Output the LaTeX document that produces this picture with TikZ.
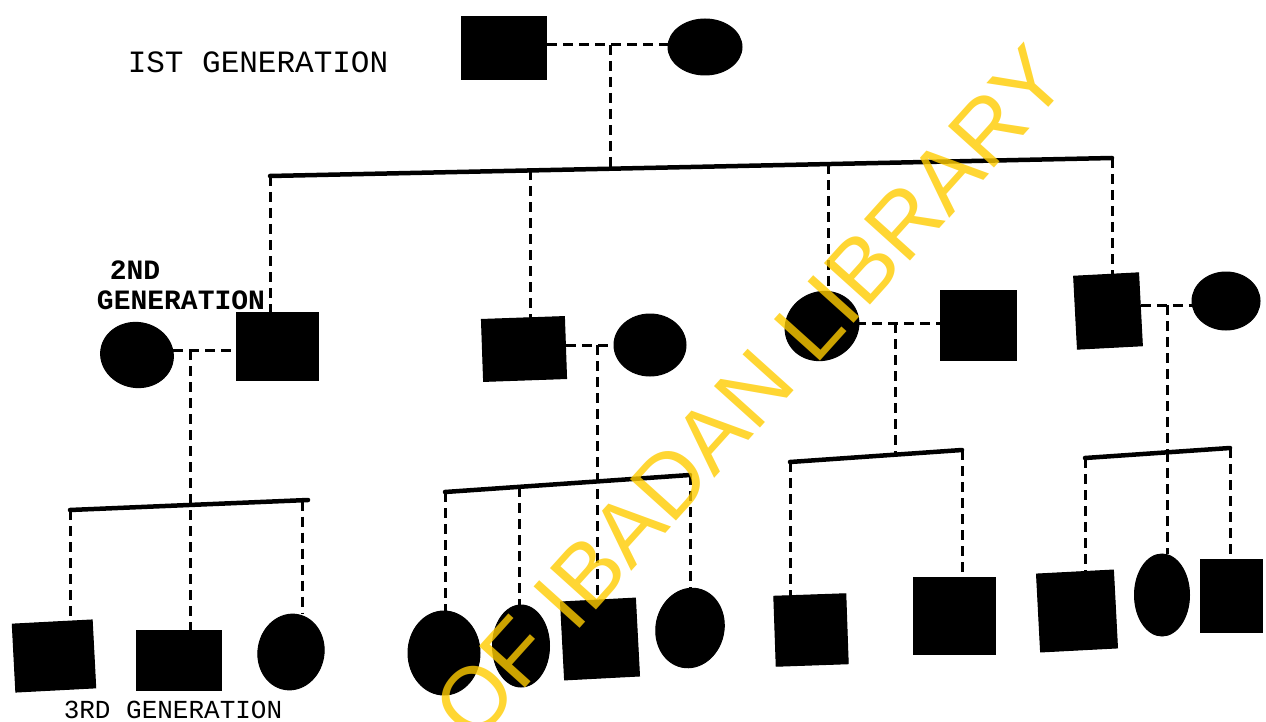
\documentclass[tikz,border=0pt]{standalone}
\usepackage{fontspec}
\newfontfamily\typew{Liberation Mono}
\newfontfamily\wmarkfont{Liberation Sans}
\usetikzlibrary{shapes.geometric}
\definecolor{wmyellow}{RGB}{255,204,0}
\tikzset{
  male/.style={rectangle, fill=black, draw=black, line width=1pt, inner sep=0pt},
  female/.style={ellipse, fill=black, draw=black, line width=1pt, inner sep=0pt},
  dashline/.style={line width=3pt, dash pattern=on 10pt off 6pt},
  barline/.style={line width=4.5pt, line cap=round},
  genlabel/.style={font=\typew\fontsize{31}{33}\selectfont, inner sep=0pt},
}
\begin{document}
\begin{tikzpicture}[x=1pt, y=-1pt]
\useasboundingbox (0,0) rectangle (1266,722);

% ---------- first generation ----------
\node[male, minimum width=85pt, minimum height=63pt] (g1m) at (504,48) {};
\node[female, minimum width=74pt, minimum height=56pt] (g1f) at (705,47) {};
\coordinate (m1) at (610,45);
\draw[dashline] (m1 -| g1m.east) -- (m1 -| g1f.west);
\coordinate (t0) at (270,176);
\coordinate (t1) at (530,170.4);
\coordinate (t2) at (828,164.1);
\coordinate (t3) at (1112,158);
\coordinate (tm) at (610,168.7);
\draw[dashline] (m1) -- (tm);
\draw[barline] (t0) -- (t3);

% ---------- second generation ----------
\node[female, minimum width=73pt, minimum height=65pt, rotate=-10] (aw) at (137,355) {};
\node[male, minimum width=82pt, minimum height=68pt] (ah) at (277,346) {};
\node[male, minimum width=83pt, minimum height=62pt, rotate=2] (bh) at (524,349) {};
\node[female, minimum width=72pt, minimum height=62pt] (bw) at (650,345) {};
\node[female, minimum width=75pt, minimum height=68pt, rotate=25] (cw) at (822,326) {};
\node[male, minimum width=76pt, minimum height=70pt] (ch) at (978,325) {};
\node[male, minimum width=65pt, minimum height=73pt, rotate=3] (dh) at (1108,311) {};
\node[female, minimum width=68pt, minimum height=58pt] (dw) at (1226,301) {};

\draw[dashline] (t0) -- (t0 |- ah.north);
\draw[dashline] (t1) -- (t1 |- bh.north);
\draw[dashline] (t2) -- (t2 |- cw.north);
\draw[dashline] (t3) -- (t3 |- dh.north);

% marriage lines, level with each couple's drop point
\coordinate (ma) at (190,350);
\coordinate (mb) at (597,345);
\coordinate (mc) at (895,323);
\coordinate (md) at (1167,305);
\draw[dashline] (ma -| aw.east) -- (ma -| ah.west);
\draw[dashline] (mb -| bh.east) -- (mb -| bw.west);
\draw[dashline] (mc -| cw.east) -- (mc -| ch.west);
\draw[dashline] (md -| dh.east) -- (md -| dw.west);

% ---------- third generation ----------
% family A
\node[male, minimum width=80pt, minimum height=68pt, rotate=3] (s11) at (54,656) {};
\node[male, minimum width=85pt, minimum height=60pt] (s12) at (179,660) {};
\node[female, minimum width=66pt, minimum height=76pt, rotate=-10] (c13) at (291,652) {};
\coordinate (a0) at (70,510);
\coordinate (a2) at (302,500.5);
\draw[barline] (a0) -- (308,500);
\draw[dashline] (ma) -- (ma |- s12.north);
\draw[dashline] (a0) -- (a0 |- s11.north);
\draw[dashline] (a2) -- (a2 |- c13.north);

% family B
\node[female, minimum width=72pt, minimum height=84pt] (c21) at (444,653) {};
\node[female, minimum width=57pt, minimum height=82pt] (c22) at (521,646) {};
\node[male, minimum width=75pt, minimum height=78pt, rotate=3] (s23) at (600,639) {};
\node[female, minimum width=68pt, minimum height=80pt, rotate=-12] (c24) at (690,628) {};
\coordinate (b0) at (445,492);
\coordinate (b1) at (519,487);
\coordinate (b3) at (690,475);
\draw[barline] (b0) -- (b3);
\draw[dashline] (mb) -- (mb |- s23.north);
\draw[dashline] (b0) -- (b0 |- c21.north);
\draw[dashline] (b1) -- (b1 |- c22.north);
\draw[dashline] (b3) -- (b3 |- c24.north);

% family C
\node[male, minimum width=72pt, minimum height=70pt, rotate=2] (s31) at (811,630) {};
\node[male, minimum width=82pt, minimum height=77pt] (s32) at (954,616) {};
\coordinate (c0) at (790,462);
\coordinate (c1) at (962,450);
\coordinate (cm) at (895,455);
\draw[dashline] (mc) -- (cm);
\draw[barline] (c0) -- (c1);
\draw[dashline] (c0) -- (c0 |- s31.north);
\draw[dashline] (c1) -- (c1 |- s32.north);

% family D
\node[male, minimum width=77pt, minimum height=78pt, rotate=3] (s41) at (1077,611) {};
\node[female, minimum width=55pt, minimum height=82pt] (c42) at (1162,595) {};
\node[male, minimum width=62pt, minimum height=73pt] (s43) at (1231,596) {};
\coordinate (d0) at (1085,458);
\coordinate (d2) at (1230,448);
\coordinate (dm) at (1167,452);
\draw[dashline] (md) -- (dm);
\draw[barline] (d0) -- (d2);
\draw[dashline] (d0) -- (d0 |- s41.north);
\draw[dashline] (dm) -- (dm |- c42.north);
\draw[dashline] (d2) -- (d2 |- s43.north);

% ---------- generation labels ----------
\node[genlabel] (lab1) at (258,62) {IST GENERATION};
\node[genlabel, font=\typew\bfseries\fontsize{28}{30}\selectfont] (lab2a) at (135,270) {2ND};
\node[genlabel, font=\typew\bfseries\fontsize{28}{30}\selectfont] (lab2b) at (181,300) {GENERATION};
\node[genlabel, font=\typew\fontsize{26}{28}\selectfont] (lab3) at (173,710) {3RD GENERATION};

% ---------- library stamp ----------
\node[text=wmyellow, opacity=0.8, rotate=48, inner sep=0pt,
      font=\wmarkfont\fontsize{90}{92}\selectfont] (stamp) at (750,393) {OF IBADAN LIBRARY};
\end{tikzpicture}
\end{document}
